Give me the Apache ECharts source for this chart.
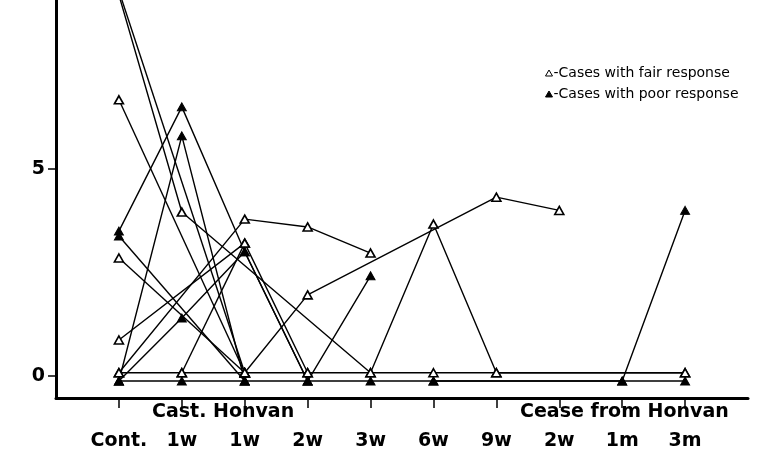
<!DOCTYPE html>
<html>
<head>
<meta charset="utf-8">
<script src="https://cdn.jsdelivr.net/npm/echarts@6/dist/echarts.min.js"></script>
<style>
html,body{margin:0;padding:0;background:#fff;}
#chart{width:770px;height:460px;}
</style>
</head>
<body>
<div id="chart"></div>
<script>
// Categories (time points)
const categories = ['Cont.', '1w', '1w', '2w', '3w', '6w', '9w', '2w', '1m', '3m'];
const groupLabels = ['Cast. Honvan', 'Cease from Honvan'];
const yTickValues = [0, 5];
const legendNames = ['Cases with fair response', 'Cases with poor response'];

// Cases with fair response (open triangles); null = not measured
const fair1 = [9.2, 3.96, null, null, 0.08, 3.67, 0.08, null, null, 0.08];
const fair2 = [9.3, null, 0.08, null, null, null, null, null, null, null];
const fair3 = [6.67, null, 0.08, null, null, null, null, null, null, null];
const fair4 = [2.85, null, 0.08, null, null, null, null, null, null, null];
const fair5 = [0.87, null, 3.21, 0.08, null, null, null, null, null, null];
const fair6 = [0.08, null, 3.79, 3.6, 2.97, null, null, null, null, null];
const fair7 = [null, 0.08, 3.21, null, null, null, null, null, null, null];
const fair8 = [null, null, 0.08, 1.96, null, null, 4.32, 4.0, null, null];
const fair9 = [0.08, 0.08, 0.08, 0.08, 0.08, 0.08, 0.08, null, null, 0.08];

// Cases with poor response (filled triangles)
const poor1 = [3.5, 6.5, 3.0, -0.12, 2.42, null, null, null, null, null];
const poor2 = [-0.12, 5.8, -0.12, null, null, null, null, null, null, null];
const poor3 = [3.38, null, -0.12, null, null, null, null, null, null, null];
const poor4 = [-0.12, 1.4, 3.0, -0.12, null, null, null, null, null, null];
const poor5 = [null, null, null, null, null, -0.12, null, null, -0.12, 4.0];
const poor6 = [-0.12, -0.12, -0.12, -0.12, -0.12, -0.12, null, null, -0.12, -0.12];

const fairSeries = [fair1, fair2, fair3, fair4, fair5, fair6, fair7, fair8, fair9];
const poorSeries = [poor1, poor2, poor3, poor4, poor5, poor6];

const pad = arr => [null].concat(arr, [null]);
const axisCats = [''].concat(categories, ['']);

const FONT = 'DejaVu Sans';

function mk(data, fair) {
  return {
    type: 'line',
    name: fair ? legendNames[0] : legendNames[1],
    data: pad(data),
    connectNulls: true,
    symbol: 'triangle',
    symbolSize: [9, 8],
    showAllSymbol: true,
    clip: false,
    lineStyle: { color: '#000', width: 1.4 },
    itemStyle: fair ? { color: '#fff', borderColor: '#000', borderWidth: 1.6 }
                    : { color: '#000', borderColor: '#000', borderWidth: 1 },
    emphasis: { disabled: true },
    animation: false
  };
}

const series = fairSeries.map(d => mk(d, true)).concat(poorSeries.map(d => mk(d, false)));

const chart = echarts.init(document.getElementById('chart'), null, { renderer: 'canvas' });
chart.setOption({
  backgroundColor: '#fff',
  animation: false,
  grid: { left: 56, right: 22, top: 0, bottom: 62, containLabel: false },
  legend: {
    orient: 'vertical',
    left: 540,
    top: 61,
    itemWidth: 7,
    itemHeight: 6,
    itemGap: 7,
    selectedMode: false,
    formatter: n => '-' + n,
    textStyle: { fontFamily: FONT, fontSize: 14, color: '#000', padding: [0, 0, 0, -4] },
    data: [
      { name: legendNames[0], icon: 'triangle', itemStyle: { color: '#fff', borderColor: '#000', borderWidth: 1 } },
      { name: legendNames[1], icon: 'triangle', itemStyle: { color: '#000', borderColor: '#000', borderWidth: 1 } }
    ]
  },
  xAxis: {
    type: 'category',
    data: axisCats,
    boundaryGap: false,
    axisLine: { show: true, onZero: false, lineStyle: { color: '#000', width: 3 } },
    axisTick: {
      show: true, length: 10, inside: false,
      interval: (i, v) => v !== '',
      lineStyle: { color: '#000', width: 1.5 }
    },
    axisLabel: {
      interval: 0, margin: 34,
      fontFamily: FONT, fontWeight: 'bold', fontSize: 19, color: '#000'
    },
    splitLine: { show: false }
  },
  yAxis: {
    type: 'value',
    min: -0.53,
    max: 9.08,
    axisLine: { show: true, onZero: false, lineStyle: { color: '#000', width: 3 } },
    axisTick: { show: true, length: 8, customValues: yTickValues, lineStyle: { color: '#000', width: 1.5 } },
    axisLabel: { customValues: yTickValues, margin: 11, fontFamily: FONT, fontWeight: 'bold', fontSize: 19, color: '#000' },
    splitLine: { show: false }
  },
  graphic: [
    { type: 'text', left: 152, top: 403, style: { text: groupLabels[0], fontFamily: FONT, fontWeight: 'bold', fontSize: 19, fill: '#000' } },
    { type: 'text', left: 520, top: 403, style: { text: groupLabels[1], fontFamily: FONT, fontWeight: 'bold', fontSize: 19, fill: '#000' } }
  ],
  series: series
});
</script>
</body>
</html>
